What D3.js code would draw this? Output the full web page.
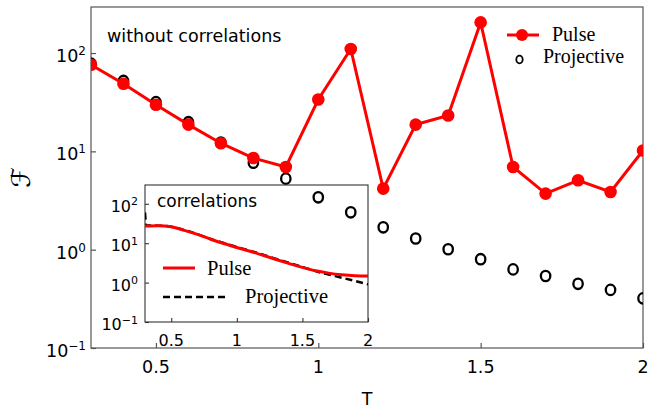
<!DOCTYPE html>
<html>
<head>
<meta charset="utf-8">
<script src="https://cdn.jsdelivr.net/npm/d3@7"></script>
<style>
  body { margin: 0; background: #fff; }
  svg { display: block; }
  .sans { font-family: "DejaVu Sans", sans-serif; }
  .serif { font-family: "Liberation Serif", "Times New Roman", serif; }
</style>
</head>
<body>
<div id="chart"></div>
<script>
// main panel: without correlations
const temps = [0.3, 0.4, 0.5, 0.6, 0.7, 0.8, 0.9, 1.0, 1.1, 1.2, 1.3, 1.4, 1.5, 1.6, 1.7, 1.8, 1.9, 2.0];
const pulse = [76, 48.7, 29.8, 18.7, 12.1, 8.55, 6.93, 33.7, 110, 4.18, 18.7, 23.2, 205, 6.93, 3.72, 5.08, 3.86, 10.2];
const projective = [78, 52, 31.7, 19.8, 12.3, 7.67, 5.28, 3.41, 2.40, 1.69, 1.30, 1.01, 0.80, 0.63, 0.54, 0.45, 0.39, 0.32];

// inset: correlations
const insetPulseT = [0.3, 0.4, 0.5, 0.6, 0.7, 0.8, 0.9, 1.0, 1.1, 1.2, 1.3, 1.4, 1.5, 1.6, 1.7, 1.8, 1.9, 2.0];
const insetPulse = [27.3, 27.8, 26.0, 21.2, 16.7, 12.6, 9.8, 7.8, 6.25, 4.96, 3.86, 3.04, 2.43, 1.99, 1.74, 1.58, 1.49, 1.46];
const insetProjT = [0.3, 0.31, 0.4, 0.5, 0.6, 0.7, 0.8, 0.9, 1.0, 1.1, 1.2, 1.3, 1.4, 1.5, 1.6, 1.7, 1.8, 1.9, 2.0];
const insetProj = [60, 28, 27.9, 26.2, 21.5, 17.0, 12.9, 10.1, 8.0, 6.45, 5.12, 4.0, 3.15, 2.5, 1.95, 1.6, 1.33, 1.1, 0.9];

const xTicks = [0.5, 1, 1.5, 2];
const xTickLabels = ["0.5", "1", "1.5", "2"];
const yTicks = [0.1, 1, 10, 100];
const yExponents = ["\u22121", "0", "1", "2"];

const width = 661;
const height = 409;

const svg = d3
  .select("#chart")
  .append("svg")
  .attr("width", width)
  .attr("height", height);

// ------------
// MAIN SCALES
// ------------
const m = { left: 91, right: 643, top: 7, bottom: 348 };
const x = d3.scaleLinear().domain([0.3, 2]).range([m.left, m.right]);
const y = d3.scaleLog().domain([0.1, 294]).range([m.bottom, m.top]);

svg.append("clipPath").attr("id", "mainClip")
  .append("rect")
  .attr("x", m.left).attr("y", m.top)
  .attr("width", m.right - m.left).attr("height", m.bottom - m.top);

// frame
svg.append("rect")
  .attr("x", m.left).attr("y", m.top)
  .attr("width", m.right - m.left).attr("height", m.bottom - m.top)
  .attr("fill", "none")
  .attr("stroke", "#555")
  .attr("stroke-width", 1.2);

// axes with inward ticks
const xAxis = svg.append("g")
  .attr("transform", `translate(0,${m.bottom})`)
  .call(d3.axisBottom(x).tickValues(xTicks).tickSize(-5).tickFormat(""));
const yAxis = svg.append("g")
  .attr("transform", `translate(${m.left},0)`)
  .call(d3.axisLeft(y).tickValues(yTicks).tickSize(-5).tickFormat(""));
[xAxis, yAxis].forEach((g) => {
  g.select(".domain").remove();
  g.selectAll("line").attr("stroke", "#555").attr("stroke-width", 1.2);
});

// tick labels
svg.selectAll(".xlab")
  .data(xTicks)
  .enter()
  .append("text")
  .attr("class", "sans")
  .attr("x", (d) => x(d))
  .attr("y", 373)
  .attr("text-anchor", "middle")
  .attr("font-size", 17.5)
  .text((d, i) => xTickLabels[i]);

yTicks.forEach((d, i) => {
  const t = svg.append("text")
    .attr("class", "sans")
    .attr("x", 86)
    .attr("y", y(d) + 9)
    .attr("text-anchor", "end")
    .attr("font-size", 17.5);
  t.append("tspan").text("10");
  t.append("tspan").attr("font-size", 12).attr("dy", -7).text(yExponents[i]);
});

// axis titles
svg.append("text")
  .attr("class", "sans")
  .attr("x", (m.left + m.right) / 2)
  .attr("y", 405)
  .attr("text-anchor", "middle")
  .attr("font-size", 17.5)
  .text("T");

svg.append("text")
  .attr("class", "serif")
  .attr("transform", `translate(30,${(m.top + m.bottom) / 2}) rotate(-90)`)
  .attr("text-anchor", "middle")
  .attr("font-size", 26)
  .style("font-family", "'DejaVu Serif', 'DejaVu Sans', serif")
  .text("\u2131");

svg.append("text")
  .attr("class", "sans")
  .attr("x", 107)
  .attr("y", 42)
  .attr("font-size", 17.5)
  .text("without correlations");

// ------------
// MAIN DATA
// ------------
const mainLayer = svg.append("g").attr("clip-path", "url(#mainClip)");

// projective markers sit underneath the pulse curve
mainLayer.selectAll(".proj")
  .data(projective)
  .enter()
  .append("ellipse")
  .attr("cx", (d, i) => x(temps[i]))
  .attr("cy", (d) => y(d))
  .attr("rx", 4.7)
  .attr("ry", 5.2)
  .attr("fill", "none")
  .attr("stroke", "black")
  .attr("stroke-width", 2.3);

const pulseLine = d3.line()
  .x((d, i) => x(temps[i]))
  .y((d) => y(d));

mainLayer.append("path")
  .datum(pulse)
  .attr("d", pulseLine)
  .attr("fill", "none")
  .attr("stroke", "red")
  .attr("stroke-width", 3);

mainLayer.selectAll(".pdot")
  .data(pulse)
  .enter()
  .append("circle")
  .attr("cx", (d, i) => x(temps[i]))
  .attr("cy", (d) => y(d))
  .attr("r", 6.3)
  .attr("fill", "red");

// legend
svg.append("line")
  .attr("x1", 507).attr("x2", 539).attr("y1", 35).attr("y2", 35)
  .attr("stroke", "red").attr("stroke-width", 3);
svg.append("circle")
  .attr("cx", 522).attr("cy", 35).attr("r", 6)
  .attr("fill", "red");
svg.append("text")
  .attr("class", "serif")
  .attr("x", 552).attr("y", 40.5)
  .attr("font-size", 20)
  .text("Pulse");
svg.append("ellipse")
  .attr("cx", 519.5).attr("cy", 59.5).attr("rx", 3.2).attr("ry", 3.8)
  .attr("fill", "none").attr("stroke", "black").attr("stroke-width", 1.8);
svg.append("text")
  .attr("class", "serif")
  .attr("x", 543).attr("y", 63)
  .attr("font-size", 20)
  .text("Projective");

// ------------
// INSET
// ------------
const n = { left: 145, right: 368, top: 185, bottom: 322 };
const ix = d3.scaleLinear().domain([0.3, 2]).range([n.left, n.right]);
const iy = d3.scaleLog().domain([0.1, 300]).range([n.bottom, n.top]);

svg.append("clipPath").attr("id", "insetClip")
  .append("rect")
  .attr("x", n.left).attr("y", n.top)
  .attr("width", n.right - n.left).attr("height", n.bottom - n.top);

svg.append("rect")
  .attr("x", n.left).attr("y", n.top)
  .attr("width", n.right - n.left).attr("height", n.bottom - n.top)
  .attr("fill", "none")
  .attr("stroke", "#333")
  .attr("stroke-width", 1.1);

const ixAxis = svg.append("g")
  .attr("transform", `translate(0,${n.bottom})`)
  .call(d3.axisBottom(ix).tickValues(xTicks).tickSize(-4).tickFormat(""));
const iyAxis = svg.append("g")
  .attr("transform", `translate(${n.left},0)`)
  .call(d3.axisLeft(iy).tickValues(yTicks).tickSize(-4).tickFormat(""));
[ixAxis, iyAxis].forEach((g) => {
  g.select(".domain").remove();
  g.selectAll("line").attr("stroke", "#333").attr("stroke-width", 1.1);
});

svg.selectAll(".ixlab")
  .data(xTicks)
  .enter()
  .append("text")
  .attr("class", "sans")
  .attr("x", (d) => ix(d))
  .attr("y", 345.5)
  .attr("text-anchor", "middle")
  .attr("font-size", 16)
  .text((d, i) => xTickLabels[i]);

yTicks.forEach((d, i) => {
  const t = svg.append("text")
    .attr("class", "sans")
    .attr("x", 138)
    .attr("y", iy(d) + 8)
    .attr("text-anchor", "end")
    .attr("font-size", 16);
  t.append("tspan").text("10");
  t.append("tspan").attr("font-size", 11).attr("dy", -6.5).text(yExponents[i]);
});

svg.append("text")
  .attr("class", "sans")
  .attr("x", 157)
  .attr("y", 207)
  .attr("font-size", 17)
  .text("correlations");

const insetLayer = svg.append("g").attr("clip-path", "url(#insetClip)");

insetLayer.append("path")
  .datum(insetProj)
  .attr("d", d3.line().curve(d3.curveMonotoneX)
    .x((d, i) => ix(insetProjT[i]))
    .y((d) => iy(d)))
  .attr("fill", "none")
  .attr("stroke", "black")
  .attr("stroke-width", 2.5)
  .attr("stroke-dasharray", "7,4");

insetLayer.append("path")
  .datum(insetPulse)
  .attr("d", d3.line().curve(d3.curveMonotoneX)
    .x((d, i) => ix(insetPulseT[i]))
    .y((d) => iy(d)))
  .attr("fill", "none")
  .attr("stroke", "red")
  .attr("stroke-width", 3);

// inset legend
svg.append("line")
  .attr("x1", 163).attr("x2", 195).attr("y1", 268).attr("y2", 268)
  .attr("stroke", "red").attr("stroke-width", 3);
svg.append("text")
  .attr("class", "serif")
  .attr("x", 207).attr("y", 274.5)
  .attr("font-size", 20.5)
  .text("Pulse");
svg.append("line")
  .attr("x1", 163).attr("x2", 228).attr("y1", 297).attr("y2", 297)
  .attr("stroke", "black").attr("stroke-width", 2.5)
  .attr("stroke-dasharray", "7,4");
svg.append("text")
  .attr("class", "serif")
  .attr("x", 245).attr("y", 303)
  .attr("font-size", 20.5)
  .text("Projective");
</script>
</body>
</html>
